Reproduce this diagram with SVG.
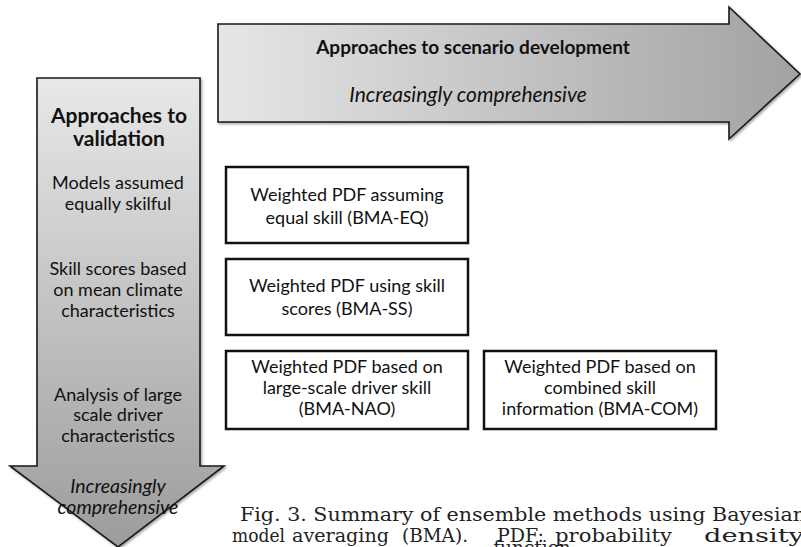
<svg xmlns="http://www.w3.org/2000/svg" width="801" height="547" viewBox="0 0 801 547">
<defs>
<linearGradient id="gh" x1="0" y1="0" x2="1" y2="0">
<stop offset="0" stop-color="#e6e6e6"/><stop offset="1" stop-color="#a2a2a2"/>
</linearGradient>
<linearGradient id="gv" x1="0" y1="0" x2="0" y2="1">
<stop offset="0" stop-color="#e8e8e8"/><stop offset="1" stop-color="#9c9c9c"/>
</linearGradient>
<filter id="sh" x="-5%" y="-5%" width="110%" height="110%">
<feDropShadow dx="1.5" dy="1.5" stdDeviation="1.2" flood-color="#000" flood-opacity="0.35"/>
</filter>
</defs>
<style>
.arrow{stroke:#1a1a1a;stroke-width:1.6;stroke-linejoin:miter}
.box{fill:#fff;stroke:#111;stroke-width:2.5}
.t{font-family:Lato,"Liberation Sans",sans-serif;fill:#111;text-anchor:middle;font-size:18px}
.h{font-weight:bold;font-size:21px}
.i{font-style:italic;font-size:19.5px}
.cap{font-family:"DejaVu Serif","Liberation Serif",serif;fill:#222;font-size:18.5px}
</style>
<rect width="801" height="547" fill="#fff"/>
<g id="scenario-arrow">
<path class="arrow" fill="url(#gh)" filter="url(#sh)" d="M218,24 L729,24 L729,7 L800,74 L729,139 L729,122 L218,122 Z"/>
<text class="t h" x="473" y="54" style="font-size:19px">Approaches to scenario development</text>
<text class="t i" x="468" y="102" style="font-size:21px">Increasingly comprehensive</text>
</g>
<g id="validation-arrow">
<path class="arrow" fill="url(#gv)" filter="url(#sh)" d="M37,78 L200,78 L200,466 L224,466 L118,547 L10,466 L37,466 Z"/>
<text class="t h" x="119" y="123">Approaches to</text>
<text class="t h" x="119" y="146">validation</text>
<text class="t" x="118" y="189">Models assumed</text>
<text class="t" x="118" y="210">equally skilful</text>
<text class="t" x="118" y="275">Skill scores based</text>
<text class="t" x="118" y="296">on mean climate</text>
<text class="t" x="118" y="317">characteristics</text>
<text class="t" x="118" y="401">Analysis of large</text>
<text class="t" x="118" y="421">scale driver</text>
<text class="t" x="118" y="442">characteristics</text>
<text class="t i" x="118" y="493">Increasingly</text>
<text class="t i" x="118" y="514">comprehensive</text>
</g>
<g id="bma-eq">
<rect class="box" x="226" y="167" width="242" height="76"/>
<text class="t" x="347" y="201">Weighted PDF assuming</text>
<text class="t" x="347" y="224">equal skill (BMA-EQ)</text>
</g>
<g id="bma-ss">
<rect class="box" x="226" y="259" width="242" height="76"/>
<text class="t" x="347" y="292">Weighted PDF using skill</text>
<text class="t" x="347" y="315">scores (BMA-SS)</text>
</g>
<g id="bma-nao">
<rect class="box" x="226" y="351" width="242" height="78"/>
<text class="t" x="347" y="373">Weighted PDF based on</text>
<text class="t" x="347" y="394">large-scale driver skill</text>
<text class="t" x="347" y="415">(BMA-NAO)</text>
</g>
<g id="bma-com">
<rect class="box" x="484" y="351" width="232" height="78"/>
<text class="t" x="600" y="373">Weighted PDF based on</text>
<text class="t" x="600" y="394">combined skill</text>
<text class="t" x="600" y="415">information (BMA-COM)</text>
</g>
<g id="caption">
<text class="cap" x="240" y="521" textLength="566" lengthAdjust="spacingAndGlyphs">Fig. 3. Summary of ensemble methods using Bayesian</text>
<text class="cap" y="542"><tspan x="232" textLength="53" lengthAdjust="spacingAndGlyphs">model</tspan><tspan x="292" textLength="97" lengthAdjust="spacingAndGlyphs">averaging</tspan><tspan x="402" textLength="66" lengthAdjust="spacingAndGlyphs">(BMA).</tspan><tspan x="497" textLength="47" lengthAdjust="spacingAndGlyphs">PDF:</tspan><tspan x="555" textLength="117" lengthAdjust="spacingAndGlyphs">probability</tspan><tspan x="704" textLength="100" lengthAdjust="spacingAndGlyphs">density</tspan></text>
<text class="cap" x="532" y="554" text-anchor="middle">function</text>
</g>
</svg>
